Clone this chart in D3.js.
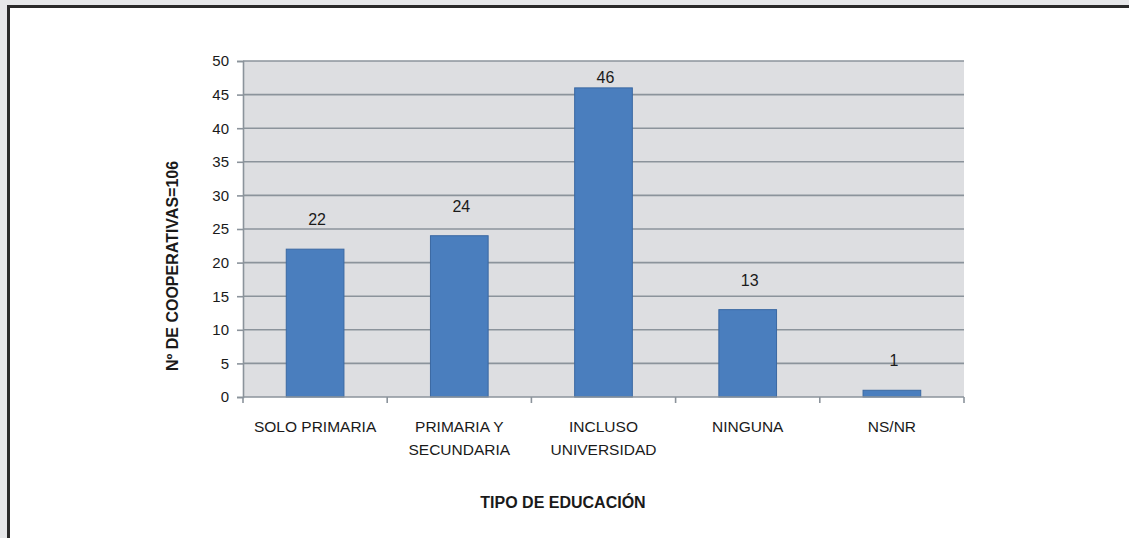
<!DOCTYPE html>
<html>
<head>
<meta charset="utf-8">
<script src="https://cdn.jsdelivr.net/npm/d3@7"></script>
<style>
  html, body { margin: 0; padding: 0; background: #e6e7e9; }
  svg { display: block; }
  text { font-family: "Liberation Sans", Arial, sans-serif; fill: #1a1a1a; }
</style>
</head>
<body>
<div id="svg-container"></div>
<script>
// data
const categories = ["SOLO PRIMARIA", "PRIMARIA Y|SECUNDARIA", "INCLUSO|UNIVERSIDAD", "NINGUNA", "NS/NR"];
const values = [22, 24, 46, 13, 1];
const yTicks = [0, 5, 10, 15, 20, 25, 30, 35, 40, 45, 50];

const width = 1129;
const height = 538;
const margin = { top: 61, right: 165, bottom: 141, left: 243 };

const svg = d3.select("#svg-container").append("svg")
  .attr("width", width).attr("height", height);

// page frame (white sheet with dark top/left edge)
svg.append("rect").attr("x", 0).attr("y", 0).attr("width", width).attr("height", height).attr("fill", "#e6e7e9");
svg.append("rect").attr("x", 7).attr("y", 5).attr("width", width).attr("height", height).attr("fill", "#2a2a2a");
svg.append("rect").attr("x", 10).attr("y", 8).attr("width", width).attr("height", height).attr("fill", "#fff");

// scales
const x = d3.scaleBand()
  .domain(categories)
  .range([margin.left, width - margin.right])
  .paddingInner(0.6)
  .paddingOuter(0.3);

const y = d3.scaleLinear()
  .domain([0, 50])
  .range([height - margin.bottom, margin.top]);

const plotL = margin.left, plotR = width - margin.right;
const plotT = margin.top, plotB = height - margin.bottom;

// plot background
svg.append("rect")
  .attr("x", plotL).attr("y", plotT)
  .attr("width", plotR - plotL).attr("height", plotB - plotT)
  .attr("fill", "#dddee1");

// gridlines
svg.append("g")
  .selectAll("line")
  .data(yTicks.filter(d => d > 0))
  .join("line")
  .attr("x1", plotL).attr("x2", plotR)
  .attr("y1", d => y(d)).attr("y2", d => y(d))
  .attr("stroke", "#8b939b").attr("stroke-width", 1.6);

// y axis
const yAxis = d3.axisLeft(y).tickValues(yTicks).tickSize(6).tickPadding(8);
const gy = svg.append("g")
  .attr("transform", `translate(${plotL},0)`)
  .call(yAxis);
gy.select(".domain").attr("stroke", "#8b939b").attr("stroke-width", 1.6);
gy.selectAll(".tick line").attr("stroke", "#8b939b").attr("stroke-width", 1.6);
gy.selectAll(".tick text")
  .style("font-size", "15px")
  .attr("fill", "#1a1a1a");

// bars
svg.append("g")
  .selectAll("rect")
  .data(values)
  .join("rect")
  .attr("x", (d, i) => x(categories[i]))
  .attr("y", d => y(d))
  .attr("width", x.bandwidth())
  .attr("height", d => y(0) - y(d))
  .attr("fill", "#4a7ebe")
  .attr("stroke", "#3a68a2")
  .attr("stroke-width", 1);

// x axis line + boundary ticks
const step = x.step();
const bounds = categories.map(c => x(c) - step * x.paddingInner() / 2);
bounds.push(plotR);
svg.append("line")
  .attr("x1", plotL).attr("x2", plotR)
  .attr("y1", plotB).attr("y2", plotB)
  .attr("stroke", "#8b939b").attr("stroke-width", 1.6);
svg.append("g")
  .selectAll("line")
  .data(bounds)
  .join("line")
  .attr("x1", d => d).attr("x2", d => d)
  .attr("y1", plotB).attr("y2", plotB + 6)
  .attr("stroke", "#8b939b").attr("stroke-width", 1.6);

// value labels
svg.append("g")
  .selectAll("text")
  .data(values)
  .join("text")
  .attr("x", (d, i) => x(categories[i]) + x.bandwidth() / 2 + 2)
  .attr("y", d => Math.max(y(d) - 24, plotT + 22))
  .attr("text-anchor", "middle")
  .style("font-size", "16px")
  .text(d => d);

// category labels
const cat = svg.append("g")
  .selectAll("text")
  .data(categories)
  .join("text")
  .attr("text-anchor", "middle")
  .style("font-size", "15.5px")
  .attr("transform", d => `translate(${x(d) + x.bandwidth() / 2},${plotB + 35})`);
cat.selectAll("tspan")
  .data(d => d.split("|"))
  .join("tspan")
  .attr("x", 0)
  .attr("dy", (d, i) => i === 0 ? 0 : 23)
  .text(d => d);

// axis titles
svg.append("text")
  .attr("x", 563)
  .attr("y", 508)
  .attr("text-anchor", "middle")
  .style("font-weight", "bold")
  .style("font-size", "16px")
  .text("TIPO DE EDUCACIÓN");

svg.append("text")
  .attr("transform", `translate(178,266) rotate(-90)`)
  .attr("text-anchor", "middle")
  .style("font-weight", "bold")
  .style("font-size", "16px")
  .text("Nº DE COOPERATIVAS=106");
</script>
</body>
</html>
